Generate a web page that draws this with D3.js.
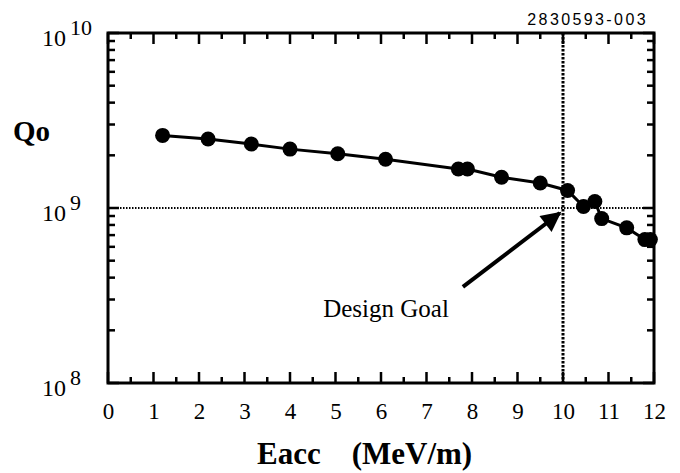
<!DOCTYPE html>
<html>
<head>
<meta charset="utf-8">
<script src="https://cdn.jsdelivr.net/npm/d3@7"></script>
<style>
  body { margin: 0; background: #fff; }
  svg { display: block; }
</style>
</head>
<body>
<svg id="chart" width="680" height="473"></svg>
<script>
// Data
var eacc = [1.2, 2.2, 3.15, 4.0, 5.05, 6.1, 7.7, 7.9, 8.65, 9.5, 10.1, 10.45, 10.7, 10.85, 11.4, 11.8, 11.92];
var qo = [2.6e9, 2.48e9, 2.32e9, 2.17e9, 2.04e9, 1.9e9, 1.67e9, 1.67e9, 1.5e9, 1.39e9, 1.26e9, 1.02e9, 1.09e9, 0.87e9, 0.77e9, 0.66e9, 0.66e9];
var xTicks = [0, 1, 2, 3, 4, 5, 6, 7, 8, 9, 10, 11, 12];
var xMinor = [0.5, 1.5, 2.5, 3.5, 4.5, 5.5, 6.5, 7.5, 8.5, 9.5, 10.5, 11.5];
var yDecades = [1e8, 1e9, 1e10];
var yExponents = ["8", "9", "10"];
var yMinor = [2e8, 3e8, 4e8, 5e8, 6e8, 7e8, 8e8, 9e8, 2e9, 3e9, 4e9, 5e9, 6e9, 7e9, 8e9, 9e9];
var goalE = 10;
var goalQ = 1e9;
// annotation: arrow tail / tip and label anchor, in data units
var arrowTail = [7.8, 3.54e8];
var arrowTip = [9.93, 9.36e8];
var labelPos = [4.73, 2.38e8];

var plotLeft = 108, plotRight = 654, plotTop = 33, plotBottom = 383;
var serif = "'Liberation Serif', 'Times New Roman', serif";

var svg = d3.select("#chart");

var x = d3.scaleLinear().domain([0, 12]).range([plotLeft, plotRight]);
var y = d3.scaleLog().domain([1e8, 1e10]).range([plotBottom, plotTop]);

// Guide lines (design goal)
svg.append("line")
  .attr("x1", plotLeft).attr("x2", plotRight)
  .attr("y1", y(goalQ)).attr("y2", y(goalQ))
  .attr("stroke", "#000").attr("stroke-width", 1.8)
  .attr("stroke-dasharray", "1.5,1.5");

svg.append("line")
  .attr("x1", x(goalE)).attr("x2", x(goalE))
  .attr("y1", plotTop).attr("y2", plotBottom)
  .attr("stroke", "#000").attr("stroke-width", 3)
  .attr("stroke-dasharray", "2.5,1.5");

// Frame
svg.append("rect")
  .attr("x", plotLeft).attr("y", plotTop)
  .attr("width", plotRight - plotLeft).attr("height", plotBottom - plotTop)
  .attr("fill", "none").attr("stroke", "#000").attr("stroke-width", 3);

// X tick labels
svg.append("g")
  .attr("transform", "translate(0," + plotBottom + ")")
  .call(d3.axisBottom(x).tickValues(xTicks).tickSize(0).tickPadding(20).tickFormat(d3.format("d")))
  .call(function (g) {
    g.select(".domain").remove();
    g.selectAll("text").attr("font-family", serif).attr("font-size", 23).attr("fill", "#000");
  });

// Y decade labels with superscripts
var yl = svg.append("g").selectAll("text")
  .data(yDecades)
  .enter()
  .append("text")
  .attr("x", 42)
  .attr("y", function (d) { return y(d) + 13; })
  .attr("font-family", serif)
  .attr("font-size", 24)
  .attr("fill", "#000");
yl.append("tspan").text("10");
yl.append("tspan")
  .attr("dx", 4)
  .attr("dy", -11)
  .attr("font-size", 22)
  .text(function (d, i) { return yExponents[i]; });

// Data line and markers
var points = eacc.map(function (e, i) { return [e, qo[i]]; });
var line = d3.line()
  .x(function (d) { return x(d[0]); })
  .y(function (d) { return y(d[1]); });

svg.append("path")
  .datum(points)
  .attr("fill", "none")
  .attr("stroke", "#000")
  .attr("stroke-width", 3)
  .attr("d", line);

svg.append("g").selectAll("circle")
  .data(points)
  .enter()
  .append("circle")
  .attr("cx", function (d) { return x(d[0]); })
  .attr("cy", function (d) { return y(d[1]); })
  .attr("r", 7.5)
  .attr("fill", "#000");

// Arrow annotation
svg.append("defs").append("marker")
  .attr("id", "head")
  .attr("viewBox", "0 0 10 10")
  .attr("refX", 9).attr("refY", 5)
  .attr("markerWidth", 6.5).attr("markerHeight", 5)
  .attr("markerUnits", "strokeWidth")
  .attr("orient", "auto")
  .append("path")
  .attr("d", "M0,0 L10,5 L0,10 z")
  .attr("fill", "#000");

svg.append("line")
  .attr("x1", x(arrowTail[0])).attr("y1", y(arrowTail[1]))
  .attr("x2", x(arrowTip[0])).attr("y2", y(arrowTip[1]))
  .attr("stroke", "#000").attr("stroke-width", 4)
  .attr("marker-end", "url(#head)");

svg.append("text")
  .attr("x", x(labelPos[0]))
  .attr("y", y(labelPos[1]))
  .attr("font-family", serif)
  .attr("font-size", 25)
  .attr("fill", "#000")
  .text("Design Goal");

// Axis titles
svg.append("text")
  .attr("x", 13).attr("y", 141)
  .attr("font-family", serif)
  .attr("font-weight", "bold")
  .attr("font-size", 29)
  .text("Qo");

svg.append("text")
  .attr("x", 257).attr("y", 464)
  .attr("font-family", serif)
  .attr("font-weight", "bold")
  .attr("font-size", 31)
  .attr("xml:space", "preserve")
  .text("Eacc    (MeV/m)");

// Figure id
svg.append("text")
  .attr("x", 648).attr("y", 25)
  .attr("text-anchor", "end")
  .attr("font-family", "'Liberation Sans', Arial, sans-serif")
  .attr("font-size", 16)
  .attr("letter-spacing", 2.4)
  .text("2830593-003");

// Inward ticks on all four sides
var tickLayer = svg.append("g").attr("class", "ticks");
function addTicks(values, side, len) {
  tickLayer.append("g").selectAll("rect")
    .data(values)
    .enter()
    .append("rect")
    .attr("fill", "#000")
    .attr("x", function (d) {
      if (side === "bottom" || side === "top") return x(d) - 1.25;
      return side === "left" ? plotLeft : plotRight - len;
    })
    .attr("y", function (d) {
      if (side === "left" || side === "right") return y(d) - 1.25;
      return side === "top" ? plotTop : plotBottom - len;
    })
    .attr("width", (side === "bottom" || side === "top") ? 2.5 : len)
    .attr("height", (side === "bottom" || side === "top") ? len : 2.5);
}
["bottom", "top"].forEach(function (s) {
  addTicks(xTicks, s, 11);
  addTicks(xMinor, s, 6);
});
["left", "right"].forEach(function (s) {
  addTicks(yMinor, s, 7);
  addTicks(yDecades, s, 11);
});
</script>
</body>
</html>
